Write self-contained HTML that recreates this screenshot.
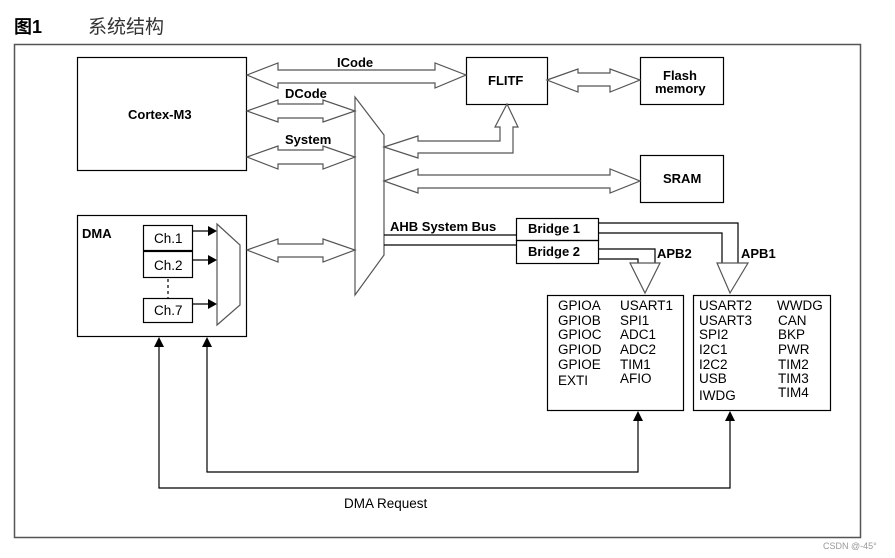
<!DOCTYPE html>
<html><head><meta charset="utf-8"><style>
body{margin:0;background:#fff;}
svg{display:block;}
text{font-family:"Liberation Sans",Arial,sans-serif;fill:#000;}
.b{font-weight:bold;font-size:13px;}
.n{font-size:13.5px;}
</style></head><body>
<svg width="895" height="558" viewBox="0 0 895 558" xmlns="http://www.w3.org/2000/svg">
<text x="14" y="33" style="font-family:'Liberation Sans','Noto Sans CJK SC',sans-serif;font-weight:bold;font-size:18px">图1</text>
<text x="88" y="33" style="font-family:'Liberation Sans','Noto Sans CJK SC',sans-serif;font-size:19px;fill:#333">系统结构</text>
<rect x="14.5" y="44.5" width="846" height="493" fill="none" stroke="#555" stroke-width="1.5"/>
<g fill="none" stroke="#000" stroke-width="1.2">
<rect x="77.5" y="57.5" width="169" height="113"/>
<rect x="466.5" y="57.5" width="81" height="47"/>
<rect x="640.5" y="57.5" width="83" height="47"/>
<rect x="640.5" y="155.5" width="83" height="47"/>
<rect x="77.5" y="215.5" width="169" height="121"/>
<rect x="143.5" y="225.5" width="49" height="25"/>
<rect x="143.5" y="251.5" width="49" height="26"/>
<rect x="143.5" y="298.5" width="49" height="24"/>
<rect x="516.5" y="218.5" width="82" height="22"/>
<rect x="516.5" y="240.5" width="82" height="23"/>
<rect x="547.5" y="295.5" width="136" height="115"/>
<rect x="693.5" y="295.5" width="137" height="115"/>
</g>
<g fill="none" stroke="#555" stroke-width="1.2">
<polygon points="355,97 384,135 384,255 355,295"/>
<polygon points="217,224 240,245 240,305 217,325"/>
<!-- ICode -->
<polygon points="247,75 278,63 278,70 435,70 435,63 466,75 435,88 435,83 278,83 278,88"/>
<!-- DCode -->
<polygon points="247,111 278,100 278,104 323,104 323,100 355,111 323,122 323,118 278,118 278,122"/>
<!-- System -->
<polygon points="247,157 278,146 278,150 323,150 323,146 355,157 323,169 323,164 278,164 278,169"/>
<!-- DMA -->
<polygon points="247,250 278,239 278,244 323,244 323,239 355,250 323,262 323,257 278,257 278,262"/>
<!-- FLITF-Flash -->
<polygon points="547,80 578,69 578,73 610,73 610,69 640,80 610,92 610,86 578,86 578,92"/>
<!-- SRAM -->
<polygon points="384,181 418,169 418,175 610,175 610,169 640,181 610,193 610,188 418,188 418,193"/>
<!-- bus to FLITF -->
<polygon points="384,147 418,136 418,141 500,141 500,127 495,127 507,104 518,127 513,127 513,153 418,153 418,158"/>
</g>
<g fill="none" stroke="#000" stroke-width="1.2">
<line x1="384" y1="235" x2="516" y2="235"/>
<line x1="384" y1="245" x2="516" y2="245"/>
<polyline points="598,223 738,223 738,263"/>
<polyline points="598,233 722,233 722,263"/>
<polyline points="598,249 655,249 655,263"/>
<polyline points="598,259 638,259 638,263"/>
</g>
<g fill="none" stroke="#555" stroke-width="1.2">
<polygon points="717,263 722,263 722,263 738,263 748,263 730,293"/>
<polygon points="630,263 660,263 645,293"/>
</g>
<g stroke="#000" stroke-width="1.2" fill="none">
<line x1="192" y1="231" x2="210" y2="231"/>
<line x1="192" y1="260" x2="210" y2="260"/>
<line x1="192" y1="304" x2="210" y2="304"/>
<line x1="168" y1="279" x2="168" y2="298" stroke-dasharray="3,3"/>
<polyline points="159,345 159,488 730,488 730,420"/>
<polyline points="207,345 207,472 638,472 638,420"/>
</g>
<g fill="#000">
<polygon points="217,231 208,226 208,236"/>
<polygon points="217,260 208,255 208,265"/>
<polygon points="217,304 208,299 208,309"/>
<polygon points="159,337 154,347 164,347"/>
<polygon points="207,337 202,347 212,347"/>
<polygon points="638,411 633,421 643,421"/>
<polygon points="730,411 725,421 735,421"/>
</g>
<text class="b" x="128" y="119">Cortex-M3</text>
<text class="b" x="488" y="85">FLITF</text>
<text class="b" x="663" y="80">Flash</text>
<text class="b" x="655" y="93">memory</text>
<text class="b" x="663" y="183">SRAM</text>
<text class="b" x="337" y="67">ICode</text>
<text class="b" x="285" y="98">DCode</text>
<text class="b" x="285" y="144">System</text>
<text class="b" x="390" y="231">AHB System Bus</text>
<text class="b" x="528" y="233">Bridge 1</text>
<text class="b" x="528" y="256">Bridge 2</text>
<text class="b" x="657" y="258">APB2</text>
<text class="b" x="741" y="258">APB1</text>
<text class="b" x="82" y="238">DMA</text>
<text class="n" x="154" y="243">Ch.1</text>
<text class="n" x="154" y="270">Ch.2</text>
<text class="n" x="154" y="315">Ch.7</text>
<g class="n">
<text class="n" x="558" y="310">GPIOA</text><text class="n" x="558" y="325">GPIOB</text><text class="n" x="558" y="339">GPIOC</text><text class="n" x="558" y="354">GPIOD</text><text class="n" x="558" y="369">GPIOE</text><text class="n" x="558" y="385">EXTI</text>
<text class="n" x="620" y="310">USART1</text><text class="n" x="620" y="325">SPI1</text><text class="n" x="620" y="339">ADC1</text><text class="n" x="620" y="354">ADC2</text><text class="n" x="620" y="369">TIM1</text><text class="n" x="620" y="383">AFIO</text>
<text class="n" x="699" y="310">USART2</text><text class="n" x="699" y="325">USART3</text><text class="n" x="699" y="339">SPI2</text><text class="n" x="699" y="354">I2C1</text><text class="n" x="699" y="369">I2C2</text><text class="n" x="699" y="383">USB</text><text class="n" x="699" y="400">IWDG</text>
<text class="n" x="777" y="310">WWDG</text><text class="n" x="778" y="325">CAN</text><text class="n" x="778" y="339">BKP</text><text class="n" x="778" y="354">PWR</text><text class="n" x="778" y="369">TIM2</text><text class="n" x="778" y="383">TIM3</text><text class="n" x="778" y="397">TIM4</text>
</g>
<text class="n" x="344" y="508">DMA Request</text>
<text x="823" y="549" style="font-size:9px;fill:#999">CSDN @-45°</text>
</svg>
</body></html>
